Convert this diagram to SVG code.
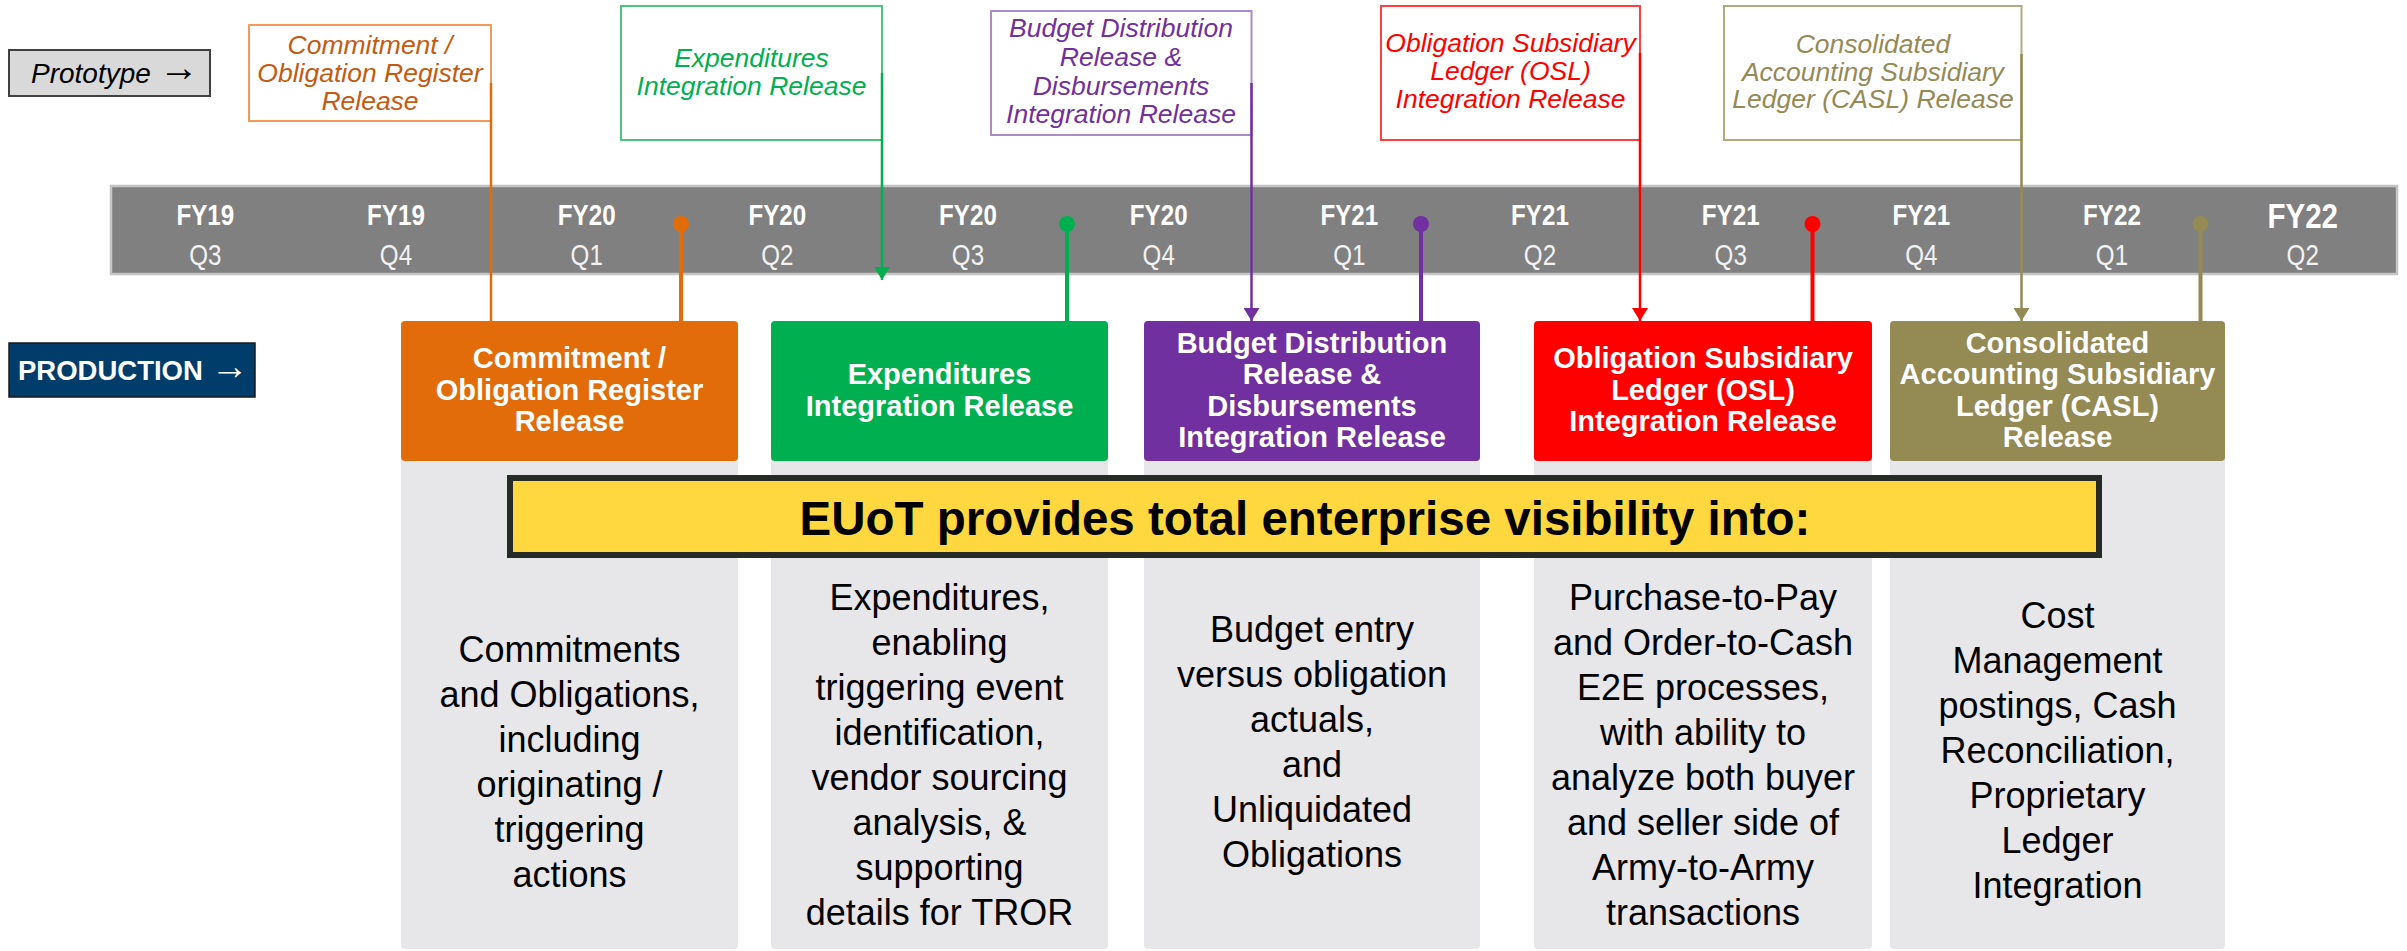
<svg xmlns="http://www.w3.org/2000/svg" width="2407" height="951" viewBox="0 0 2407 951">
<defs>
<style>
text{font-family:"Liberation Sans",Arial,sans-serif;}
.fy{font-weight:bold;font-size:29.5px;fill:#fff;text-anchor:middle}
.fyb{font-weight:bold;font-size:36px;fill:#fff;text-anchor:middle}
.q{font-size:29.5px;fill:#F2F2F2;text-anchor:middle}
.hdr{font-weight:bold;font-size:29px;fill:#fff;text-anchor:middle}
.body{font-size:36px;fill:#000;text-anchor:middle}
.call{font-style:italic;font-size:26.5px;text-anchor:middle}
.gbody{fill:#E7E6E8}
.thin{fill:none;stroke-width:2.5}
.thick{fill:none;stroke-width:4}
.cbox{fill:#fff;stroke-width:2}
.arw{font-style:normal}
</style>
<marker id="aG" viewBox="0 0 13 16" refX="13" refY="8" markerWidth="13" markerHeight="16" markerUnits="userSpaceOnUse" orient="auto"><path d="M0,0 L13,8 L0,16 z" fill="#00B050"/></marker>
<marker id="aP" viewBox="0 0 13 16" refX="13" refY="8" markerWidth="13" markerHeight="16" markerUnits="userSpaceOnUse" orient="auto"><path d="M0,0 L13,8 L0,16 z" fill="#7030A0"/></marker>
<marker id="aR" viewBox="0 0 13 16" refX="13" refY="8" markerWidth="13" markerHeight="16" markerUnits="userSpaceOnUse" orient="auto"><path d="M0,0 L13,8 L0,16 z" fill="#FF0000"/></marker>
<marker id="aO" viewBox="0 0 13 16" refX="13" refY="8" markerWidth="13" markerHeight="16" markerUnits="userSpaceOnUse" orient="auto"><path d="M0,0 L13,8 L0,16 z" fill="#948A54"/></marker>
</defs>
<rect width="2407" height="951" fill="#fff"/>

<g id="prototype-label">
<rect x="9" y="50" width="201" height="46" fill="#D9D9D9" stroke="#404040" stroke-width="2"/>
<text x="31" y="83" style="font-style:italic;font-size:28px;fill:#000">Prototype <tspan class="arw" style="font-size:40px" dy="-2">→</tspan></text>
</g>
<g id="production-label">
<rect x="9" y="343" width="246" height="54" fill="#003D6B" stroke="#1A1A1A" stroke-width="1.5"/>
<text x="18" y="380" style="font-weight:bold;font-size:27.5px;fill:#fff">PRODUCTION <tspan class="arw" style="font-size:38px" dy="-1">→</tspan></text>
</g>

<g id="timeline">
<rect x="111" y="186" width="2286" height="88" fill="#808080" stroke="#C4C4C4" stroke-width="2.5"/>
<g transform="translate(205.3 0) scale(0.82 1)"><text class="fy" y="225">FY19</text><text class="q" y="265">Q3</text></g>
<g transform="translate(396 0) scale(0.82 1)"><text class="fy" y="225">FY19</text><text class="q" y="265">Q4</text></g>
<g transform="translate(586.7 0) scale(0.82 1)"><text class="fy" y="225">FY20</text><text class="q" y="265">Q1</text></g>
<g transform="translate(777.3 0) scale(0.82 1)"><text class="fy" y="225">FY20</text><text class="q" y="265">Q2</text></g>
<g transform="translate(968 0) scale(0.82 1)"><text class="fy" y="225">FY20</text><text class="q" y="265">Q3</text></g>
<g transform="translate(1158.7 0) scale(0.82 1)"><text class="fy" y="225">FY20</text><text class="q" y="265">Q4</text></g>
<g transform="translate(1349.3 0) scale(0.82 1)"><text class="fy" y="225">FY21</text><text class="q" y="265">Q1</text></g>
<g transform="translate(1540 0) scale(0.82 1)"><text class="fy" y="225">FY21</text><text class="q" y="265">Q2</text></g>
<g transform="translate(1730.7 0) scale(0.82 1)"><text class="fy" y="225">FY21</text><text class="q" y="265">Q3</text></g>
<g transform="translate(1921.3 0) scale(0.82 1)"><text class="fy" y="225">FY21</text><text class="q" y="265">Q4</text></g>
<g transform="translate(2112 0) scale(0.82 1)"><text class="fy" y="225">FY22</text><text class="q" y="265">Q1</text></g>
<g transform="translate(2302.7 0) scale(0.82 1)"><text class="fyb" y="228">FY22</text><text class="q" y="265">Q2</text></g>
</g>

<g id="callout-commitment">
<rect class="cbox" x="249" y="25" width="242" height="96" stroke="#F19B5A"/>
<text class="call" fill="#C55A11" x="370" y="53.5">Commitment /</text>
<text class="call" fill="#C55A11" x="370" y="81.5">Obligation Register</text>
<text class="call" fill="#C55A11" x="370" y="109.5">Release</text>
</g>
<g id="callout-expenditures">
<rect class="cbox" x="621" y="6" width="261" height="134" stroke="#4CC47E"/>
<text class="call" fill="#00B050" x="751.5" y="67">Expenditures</text>
<text class="call" fill="#00B050" x="751.5" y="95">Integration Release</text>
</g>
<g id="callout-budget">
<rect class="cbox" x="991" y="11" width="260.5" height="124" stroke="#A98BC8"/>
<text class="call" fill="#7030A0" x="1121" y="37">Budget Distribution</text>
<text class="call" fill="#7030A0" x="1121" y="66">Release &amp;</text>
<text class="call" fill="#7030A0" x="1121" y="95">Disbursements</text>
<text class="call" fill="#7030A0" x="1121" y="123">Integration Release</text>
</g>
<g id="callout-osl">
<rect class="cbox" x="1381" y="6" width="259" height="134" stroke="#FF4040"/>
<text class="call" fill="#FF0000" x="1510.5" y="52">Obligation Subsidiary</text>
<text class="call" fill="#FF0000" x="1510.5" y="80">Ledger (OSL)</text>
<text class="call" fill="#FF0000" x="1510.5" y="108">Integration Release</text>
</g>
<g id="callout-casl">
<rect class="cbox" x="1724" y="6" width="297.5" height="134" stroke="#B3AB80"/>
<text class="call" fill="#948A54" x="1873" y="53">Consolidated</text>
<text class="call" fill="#948A54" x="1873" y="81">Accounting Subsidiary</text>
<text class="call" fill="#948A54" x="1873" y="108">Ledger (CASL) Release</text>
</g>

<g id="node-commitment">
<rect class="gbody" x="401" y="321" width="337" height="628" rx="4"/>
<rect x="401" y="321" width="337" height="140" rx="4" fill="#E36C0A"/>
<text class="hdr" x="569.5" y="368">Commitment /</text>
<text class="hdr" x="569.5" y="399.5">Obligation Register</text>
<text class="hdr" x="569.5" y="431">Release</text>
</g>
<g id="node-expenditures">
<rect class="gbody" x="771" y="321" width="337" height="628" rx="4"/>
<rect x="771" y="321" width="337" height="140" rx="4" fill="#00B050"/>
<text class="hdr" x="939.5" y="384">Expenditures</text>
<text class="hdr" x="939.5" y="415.5">Integration Release</text>
</g>
<g id="node-budget">
<rect class="gbody" x="1144" y="321" width="336" height="628" rx="4"/>
<rect x="1144" y="321" width="336" height="140" rx="4" fill="#7030A0"/>
<text class="hdr" x="1312" y="352.5">Budget Distribution</text>
<text class="hdr" x="1312" y="384">Release &amp;</text>
<text class="hdr" x="1312" y="415.5">Disbursements</text>
<text class="hdr" x="1312" y="447">Integration Release</text>
</g>
<g id="node-osl">
<rect class="gbody" x="1534" y="321" width="338" height="628" rx="4"/>
<rect x="1534" y="321" width="338" height="140" rx="4" fill="#FF0000"/>
<text class="hdr" x="1703" y="368">Obligation Subsidiary</text>
<text class="hdr" x="1703" y="399.5">Ledger (OSL)</text>
<text class="hdr" x="1703" y="431">Integration Release</text>
</g>
<g id="node-casl">
<rect class="gbody" x="1890" y="321" width="335" height="628" rx="4"/>
<rect x="1890" y="321" width="335" height="140" rx="4" fill="#948A54"/>
<text class="hdr" x="2057.5" y="352.5">Consolidated</text>
<text class="hdr" x="2057.5" y="384">Accounting Subsidiary</text>
<text class="hdr" x="2057.5" y="415.5">Ledger (CASL)</text>
<text class="hdr" x="2057.5" y="447">Release</text>
</g>

<g id="banner">
<rect x="510" y="478" width="1589" height="77" fill="#FED83E" stroke="#262B27" stroke-width="6"/>
<text x="1305" y="535" style="font-weight:bold;font-size:47.5px;fill:#000;text-anchor:middle">EUoT provides total enterprise visibility into:</text>
</g>

<g id="body-texts">
<text class="body" x="569.5" y="662">Commitments</text>
<text class="body" x="569.5" y="707">and Obligations,</text>
<text class="body" x="569.5" y="752">including</text>
<text class="body" x="569.5" y="797">originating /</text>
<text class="body" x="569.5" y="842">triggering</text>
<text class="body" x="569.5" y="887">actions</text>

<text class="body" x="939.5" y="610">Expenditures,</text>
<text class="body" x="939.5" y="655">enabling</text>
<text class="body" x="939.5" y="700">triggering event</text>
<text class="body" x="939.5" y="745">identification,</text>
<text class="body" x="939.5" y="790">vendor sourcing</text>
<text class="body" x="939.5" y="835">analysis, &amp;</text>
<text class="body" x="939.5" y="880">supporting</text>
<text class="body" x="939.5" y="925">details for TROR</text>

<text class="body" x="1312" y="642">Budget entry</text>
<text class="body" x="1312" y="687">versus obligation</text>
<text class="body" x="1312" y="732">actuals,</text>
<text class="body" x="1312" y="777">and</text>
<text class="body" x="1312" y="822">Unliquidated</text>
<text class="body" x="1312" y="867">Obligations</text>

<text class="body" x="1703" y="610">Purchase-to-Pay</text>
<text class="body" x="1703" y="655">and Order-to-Cash</text>
<text class="body" x="1703" y="700">E2E processes,</text>
<text class="body" x="1703" y="745">with ability to</text>
<text class="body" x="1703" y="790">analyze both buyer</text>
<text class="body" x="1703" y="835">and seller side of</text>
<text class="body" x="1703" y="880">Army-to-Army</text>
<text class="body" x="1703" y="925">transactions</text>

<text class="body" x="2057.5" y="628">Cost</text>
<text class="body" x="2057.5" y="673">Management</text>
<text class="body" x="2057.5" y="718">postings, Cash</text>
<text class="body" x="2057.5" y="763">Reconciliation,</text>
<text class="body" x="2057.5" y="808">Proprietary</text>
<text class="body" x="2057.5" y="853">Ledger</text>
<text class="body" x="2057.5" y="898">Integration</text>
</g>

<g id="connectors">
<path class="thin" d="M491,83 V321" stroke="#E36C0A"/>
<path class="thick" d="M681,224 V321" stroke="#E36C0A"/>
<circle cx="681" cy="224" r="8" fill="#E36C0A"/>

<path class="thin" d="M882,73 V280" stroke="#00B050" marker-end="url(#aG)"/>
<path class="thick" d="M1067,224 V321" stroke="#00B050"/>
<circle cx="1067" cy="224" r="8" fill="#00B050"/>

<path class="thin" d="M1251.5,83 V321" stroke="#7030A0" marker-end="url(#aP)"/>
<path class="thick" d="M1421,224 V321" stroke="#7030A0"/>
<circle cx="1421" cy="224" r="8" fill="#7030A0"/>

<path class="thin" d="M1640,53 V321" stroke="#FF0000" marker-end="url(#aR)"/>
<path class="thick" d="M1812.5,224 V321" stroke="#FF0000"/>
<circle cx="1812.5" cy="224" r="8" fill="#FF0000"/>

<path class="thin" d="M2021.5,54 V321" stroke="#948A54" marker-end="url(#aO)"/>
<path class="thick" d="M2200.5,224 V321" stroke="#948A54"/>
<circle cx="2200.5" cy="224" r="8" fill="#948A54"/>
</g>
</svg>
